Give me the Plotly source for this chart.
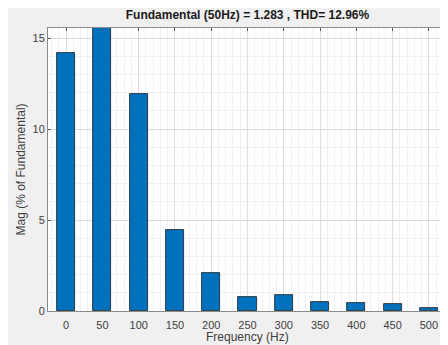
import plotly.graph_objects as go

frequencies = [0, 50, 100, 150, 200, 250, 300, 350, 400, 450, 500]
magnitudes = [14.15, 100.0, 11.95, 4.43, 2.10, 0.78, 0.86, 0.49, 0.44, 0.40, 0.16]
x_ticks = [0, 50, 100, 150, 200, 250, 300, 350, 400, 450, 500]
y_ticks = [0, 5, 10, 15]
title_text = "Fundamental (50Hz) = 1.283 , THD= 12.96%"
x_title = "Frequency (Hz)"
y_title = "Mag (% of Fundamental)"

# page body margin (8px) offsets the figure; figure fills the rest of the window
W, H = 440, 337
L, R, T, B = 40, 1, 20, 34
pw = W - L - R
ph = H - T - B

fig = go.Figure()
fig.add_trace(go.Bar(
    x=frequencies, y=magnitudes, width=25,
    marker=dict(color="#0072BD", line=dict(color="#1a1a1a", width=0.8)),
    showlegend=False,
))

font = "Liberation Sans, Arial, sans-serif"
axis_common = dict(
    showline=True, linecolor="#8a8a8a", linewidth=1, mirror="ticks",
    ticks="inside", ticklen=3, tickcolor="#555555",
    showgrid=True, gridcolor="#dcdcdc", gridwidth=1,
    zeroline=False, automargin=False,
    tickfont=dict(family=font, size=11, color="#404040"),
)

fig.update_layout(
    width=W, height=H,
    margin=dict(l=L, r=R, t=T, b=B, autoexpand=False),
    paper_bgcolor="#f0f0f0",
    plot_bgcolor="white",
    bargap=0,
    title=dict(text="<b>" + title_text + "</b>", x=(L + pw / 2) / W, xanchor="center",
               y=1 - 7 / H, yanchor="middle",
               font=dict(family=font, size=12, color="#1a1a1a")),
    xaxis=dict(range=[-25, 525], tickvals=x_ticks, ticktext=[str(v) for v in x_ticks],
               ticklabelstandoff=4,
               minor=dict(dtick=10, tick0=0, showgrid=True, gridcolor="#f1f1f1", ticks=""),
               **axis_common),
    yaxis=dict(range=[0, 15.55], tickvals=y_ticks, ticktext=[str(v) for v in y_ticks],
               minor=dict(dtick=1, tick0=0, showgrid=True, gridcolor="#f1f1f1", ticks=""),
               **axis_common),
    annotations=[
        dict(text=x_title, xref="paper", yref="paper", x=0.5, y=-(329 - T - ph) / ph,
             xanchor="center", yanchor="middle", showarrow=False,
             font=dict(family=font, size=12, color="#404040")),
        dict(text=y_title, xref="paper", yref="paper", x=-(L - 12) / pw, y=0.5,
             xanchor="center", yanchor="middle", showarrow=False, textangle=-90,
             font=dict(family=font, size=12, color="#404040")),
    ],
)

fig.write_html("out.html")
